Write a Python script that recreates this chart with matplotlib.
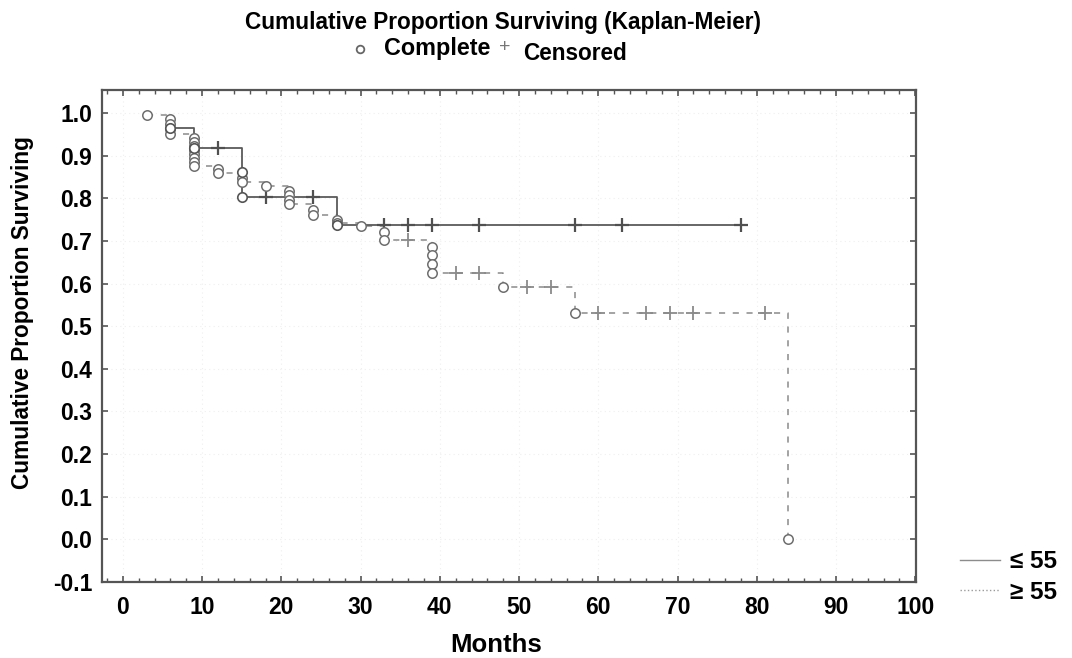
import matplotlib
matplotlib.use("Agg")
import matplotlib.pyplot as plt
from matplotlib.lines import Line2D
from matplotlib.ticker import MultipleLocator
import numpy as np

plt.rcParams['font.family'] = ['Liberation Sans', 'DejaVu Sans']

# ---------------- data ----------------
# group <= 55 (solid)
le55_step_t = [6, 9, 15, 27]
le55_step_s = [0.965, 0.919, 0.803, 0.737]
le55_end = 78
le55_complete_t = [6, 9, 15, 15, 27]
le55_complete_s = [0.965, 0.919, 0.861, 0.803, 0.737]
le55_censored_t = [12, 18, 24, 33, 36, 39, 45, 57, 63, 78]

# group >= 55 (dashed)
ge55_step_t = [3, 6, 9, 12, 15, 18, 21, 24, 27, 30, 33, 39, 48, 57, 84]
ge55_step_s = [0.995, 0.951, 0.876, 0.859, 0.838, 0.828, 0.786, 0.760,
               0.743, 0.735, 0.702, 0.625, 0.592, 0.532, 0.0]
ge55_end = 84
ge55_complete_t = [3, 6, 6, 6, 6, 9, 9, 9, 9, 9, 9, 9, 9, 12, 12, 15, 15, 18,
                   21, 21, 21, 21, 24, 24, 27, 27, 30, 33, 33, 39, 39, 39, 39,
                   48, 57, 84]
ge55_complete_s = [0.995, 0.985, 0.975, 0.963, 0.951, 0.942, 0.932, 0.922,
                   0.913, 0.904, 0.895, 0.885, 0.876, 0.868, 0.859, 0.848,
                   0.838, 0.828, 0.818, 0.808, 0.797, 0.786, 0.772, 0.760,
                   0.750, 0.743, 0.735, 0.721, 0.702, 0.686, 0.667, 0.647,
                   0.625, 0.592, 0.532, 0.0]
ge55_censored_t = [36, 42, 45, 51, 54, 60, 66, 69, 72, 81]

x_ticks = [0, 10, 20, 30, 40, 50, 60, 70, 80, 90, 100]
y_ticks = [-0.1, 0.0, 0.1, 0.2, 0.3, 0.4, 0.5, 0.6, 0.7, 0.8, 0.9, 1.0]


def surv_at(step_t, step_s, t):
    idx = np.searchsorted(step_t, t, side='right') - 1
    return np.asarray(step_s)[idx]


# ---------------- figure ----------------
fig = plt.figure(figsize=(10.72, 6.58), dpi=100)
ax = fig.add_axes([0.0951, 0.1155, 0.7594, 0.7477])

solid_col = '#5a5a5a'
dash_col = '#8a8a8a'
circ_col = '#6e6e6e'

# grid (very faint)
ax.grid(True, which='major', color='#efefef', linestyle=(0, (1, 3)), linewidth=0.8)
ax.set_axisbelow(True)

# >=55 dashed
ax.step(list(ge55_step_t) + [ge55_end], list(ge55_step_s) + [ge55_step_s[-1]],
        where='post', color=dash_col, linestyle=(0, (4, 5)), linewidth=1.1, zorder=2)
# <=55 solid
ax.step(list(le55_step_t) + [le55_end], list(le55_step_s) + [le55_step_s[-1]],
        where='post', color=solid_col, linestyle='-', linewidth=1.3, zorder=3)

# censored markers
ax.plot(ge55_censored_t, surv_at(ge55_step_t, ge55_step_s, ge55_censored_t),
        linestyle='none', marker='+', markersize=10, markeredgewidth=1.3,
        color=dash_col, zorder=4)
ax.plot(le55_censored_t, surv_at(le55_step_t, le55_step_s, le55_censored_t),
        linestyle='none', marker='+', markersize=10, markeredgewidth=1.6,
        color='#505050', zorder=4)

# complete markers
ax.plot(ge55_complete_t, ge55_complete_s, linestyle='none', marker='o',
        markersize=6.8, markerfacecolor='white', markeredgecolor=circ_col,
        markeredgewidth=1.1, zorder=5)
ax.plot(le55_complete_t, le55_complete_s, linestyle='none', marker='o',
        markersize=6.8, markerfacecolor='white', markeredgecolor='#555555',
        markeredgewidth=1.2, zorder=5)

ax.set_xlim(-2.65, 100.1)
ax.set_ylim(-0.1, 1.054)
ax.set_xticks(x_ticks)
ax.set_yticks(y_ticks)
ax.set_yticklabels([f"{v:.1f}" for v in y_ticks])
ax.xaxis.set_minor_locator(MultipleLocator(2))
ax.tick_params(axis='both', which='both', direction='in', top=True, right=True,
               color='#555555')
ax.tick_params(axis='both', which='major', length=4, width=1.2, labelsize=16.5)
ax.tick_params(axis='x', which='major', pad=10)
ax.tick_params(axis='y', which='major', pad=7)
ax.tick_params(axis='x', which='minor', length=3, width=1.0)
for lab in ax.get_xticklabels() + ax.get_yticklabels():
    lab.set_fontweight('bold')
for sp in ax.spines.values():
    sp.set_color('#555555')
    sp.set_linewidth(1.6)

ax.set_xlabel('Months', fontsize=18.5, fontweight='bold', va='center')
ax.xaxis.set_label_coords((496 - 102) / 814, (582 - 645) / 492)
ax.set_ylabel('Cumulative Proportion Surviving', fontsize=16.3, fontweight='bold',
              va='center')
ax.yaxis.set_label_coords((23 - 102) / 814, (582 - 313) / 492)

# titles
fig.text(503 / 1072, 1 - 22 / 658, 'Cumulative Proportion Surviving (Kaplan-Meier)',
         ha='center', va='center', fontsize=16.3, fontweight='bold')
fig.add_artist(Line2D([360 / 1072], [1 - 49 / 658], marker='o', markersize=5.5,
                      markerfacecolor='white', markeredgecolor='#666666',
                      markeredgewidth=1.3, transform=fig.transFigure))
fig.text(384 / 1072, 1 - 49 / 658, 'Complete', ha='left', va='center',
         fontsize=16.8, fontweight='bold')
fig.text(505 / 1072, 1 - 47 / 658, '+', ha='center', va='center',
         fontsize=14, color='#777777')
fig.text(523 / 1072, 1 - 54 / 658, 'Censored', ha='left', va='center',
         fontsize=16.3, fontweight='bold')

# legend
handles = [Line2D([], [], color='#8c8c8c', linestyle='-', linewidth=1.0),
           Line2D([], [], color='#9a9a9a', linestyle=':', linewidth=1.0)]
fig.legend(handles, ['≤ 55', '≥ 55'], loc='center left',
           bbox_to_anchor=(960 / 1072, 1 - 577 / 658), frameon=False,
           prop={'size': 17.5, 'weight': 'bold'}, handlelength=1.65,
           handletextpad=0.4, labelspacing=0.3, borderpad=0, borderaxespad=0)

fig.savefig('out.png', dpi=100)
